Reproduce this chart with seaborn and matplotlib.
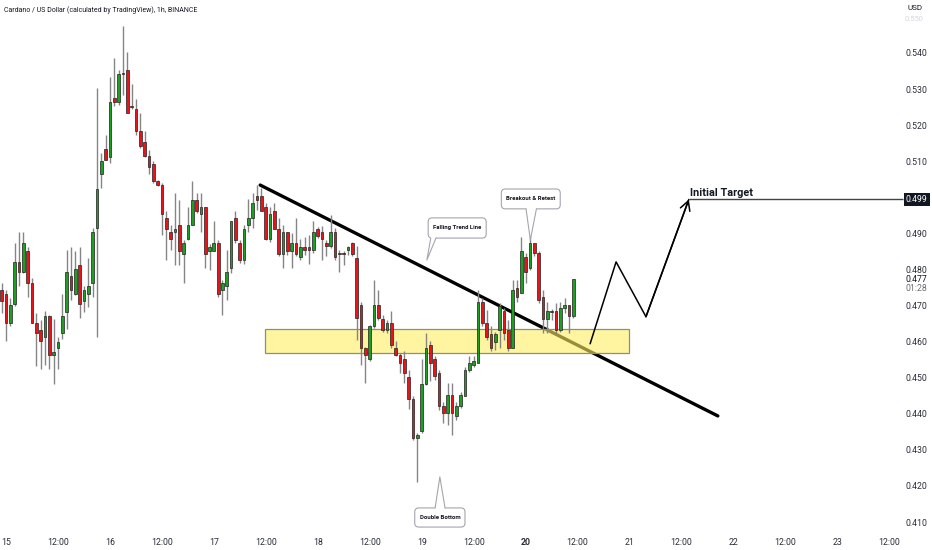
import numpy as np
import pandas as pd
import matplotlib
matplotlib.use("Agg")
import matplotlib.pyplot as plt
import seaborn as sns
from matplotlib.patches import Rectangle, FancyBboxPatch, Polygon
from matplotlib.lines import Line2D
from matplotlib.transforms import IdentityTransform

# hourly ADA/USD candles, first one at 14th 23:00
opens = [0.4742, 0.4732, 0.4653, 0.4704, 0.4822, 0.4792, 0.4852, 0.4762, 0.4651, 0.4631,
         0.4612, 0.4671, 0.4563, 0.4582, 0.4623, 0.4683, 0.4782, 0.4732, 0.4813, 0.4713,
         0.4732, 0.4762, 0.4914, 0.5064, 0.5133, 0.5113, 0.5274, 0.5263, 0.5343, 0.5353,
         0.5253, 0.5244, 0.5184, 0.5152, 0.5114, 0.5093, 0.5044, 0.5034, 0.4942, 0.4903,
         0.4903, 0.4924, 0.4843, 0.4884, 0.4924, 0.4993, 0.4953, 0.4972, 0.4852, 0.4852,
         0.4873, 0.4742, 0.4753, 0.4804, 0.4942, 0.4873, 0.4825, 0.4924, 0.4944, 0.5004,
         0.5004, 0.4972, 0.4884, 0.4962, 0.4913, 0.4843, 0.4903, 0.4852, 0.4873, 0.4834,
         0.4862, 0.4862, 0.4854, 0.4913, 0.4903, 0.4873, 0.4864, 0.4903, 0.4843, 0.4845,
         0.4854, 0.4873, 0.4831, 0.4702, 0.4582, 0.4552, 0.4642, 0.4702, 0.4662, 0.4633,
         0.4651, 0.4582, 0.4564, 0.4552, 0.4502, 0.4441, 0.4333, 0.4351, 0.4483, 0.4591,
         0.4552, 0.4513, 0.4422, 0.4402, 0.4453, 0.4393, 0.4421, 0.4450, 0.4522, 0.4536,
         0.4541, 0.4711, 0.4651, 0.4622, 0.4600, 0.4633, 0.4684, 0.4633, 0.4582, 0.4750,
         0.4734, 0.4834, 0.4804, 0.4873, 0.4845, 0.4723, 0.4662, 0.4684, 0.4684, 0.4633,
         0.4693, 0.4702, 0.4671]
highs = [0.4762, 0.4743, 0.4722, 0.4873, 0.4903, 0.4903, 0.4863, 0.4776, 0.4679, 0.4660,
         0.4685, 0.4674, 0.4662, 0.4614, 0.4731, 0.4854, 0.4861, 0.4850, 0.4861, 0.4753,
         0.4833, 0.4914, 0.5302, 0.5122, 0.5173, 0.5334, 0.5385, 0.5354, 0.5474, 0.5403,
         0.5314, 0.5272, 0.5234, 0.5184, 0.5131, 0.5100, 0.5048, 0.5039, 0.4961, 0.4924,
         0.5013, 0.4993, 0.4882, 0.4974, 0.5044, 0.5011, 0.5011, 0.4974, 0.4871, 0.4933,
         0.4882, 0.4771, 0.4854, 0.4933, 0.4962, 0.4882, 0.4924, 0.4995, 0.5013, 0.5034,
         0.5025, 0.4983, 0.4974, 0.4983, 0.4942, 0.4924, 0.4903, 0.4902, 0.4942, 0.4884,
         0.4891, 0.4896, 0.4933, 0.4919, 0.4921, 0.4882, 0.4951, 0.4915, 0.4854, 0.4850,
         0.4864, 0.4875, 0.4864, 0.4711, 0.4586, 0.4647, 0.4771, 0.4744, 0.4674, 0.4660,
         0.4684, 0.4601, 0.4568, 0.4573, 0.4522, 0.4448, 0.4347, 0.4552, 0.4624, 0.4601,
         0.4559, 0.4522, 0.4434, 0.4485, 0.4485, 0.4434, 0.4460, 0.4531, 0.4559, 0.4560,
         0.4742, 0.4721, 0.4688, 0.4642, 0.4628, 0.4707, 0.4693, 0.4660, 0.4771, 0.4771,
         0.4891, 0.4845, 0.4893, 0.4873, 0.4850, 0.4744, 0.4711, 0.4690, 0.4708, 0.4711,
         0.4721, 0.4702, 0.4773]
lows = [0.4679, 0.4603, 0.4644, 0.4699, 0.4753, 0.4790, 0.4725, 0.4651, 0.4533, 0.4524,
        0.4536, 0.4524, 0.4483, 0.4524, 0.4608, 0.4634, 0.4716, 0.4729, 0.4665, 0.4683,
        0.4697, 0.4725, 0.4614, 0.5025, 0.5103, 0.5094, 0.5253, 0.5256, 0.5283, 0.5234,
        0.5244, 0.5173, 0.5136, 0.5113, 0.5065, 0.5039, 0.5030, 0.4896, 0.4825, 0.4854,
        0.4813, 0.4813, 0.4762, 0.4882, 0.4924, 0.4956, 0.4905, 0.4804, 0.4799, 0.4852,
        0.4725, 0.4674, 0.4716, 0.4791, 0.4873, 0.4817, 0.4816, 0.4905, 0.4914, 0.4965,
        0.4961, 0.4882, 0.4877, 0.4912, 0.4836, 0.4804, 0.4840, 0.4804, 0.4836, 0.4825,
        0.4841, 0.4816, 0.4845, 0.4887, 0.4827, 0.4836, 0.4859, 0.4825, 0.4794, 0.4813,
        0.4841, 0.4836, 0.4605, 0.4536, 0.4485, 0.4545, 0.4637, 0.4660, 0.4628, 0.4624,
        0.4582, 0.4559, 0.4513, 0.4485, 0.4413, 0.4328, 0.4210, 0.4347, 0.4481, 0.4490,
        0.4494, 0.4411, 0.4374, 0.4370, 0.4342, 0.4384, 0.4417, 0.4448, 0.4517, 0.4530,
        0.4541, 0.4642, 0.4605, 0.4573, 0.4577, 0.4582, 0.4605, 0.4573, 0.4582, 0.4711,
        0.4734, 0.4762, 0.4799, 0.4836, 0.4707, 0.4624, 0.4624, 0.4660, 0.4624, 0.4628,
        0.4679, 0.4624, 0.4665]
closes = [0.4713, 0.4653, 0.4702, 0.4822, 0.4792, 0.4873, 0.4762, 0.4653, 0.4623, 0.4602,
          0.4671, 0.4563, 0.4572, 0.4600, 0.4671, 0.4792, 0.4743, 0.4802, 0.4704, 0.4742,
          0.4753, 0.4903, 0.5022, 0.5101, 0.5103, 0.5263, 0.5263, 0.5343, 0.5341, 0.5234,
          0.5251, 0.5185, 0.5142, 0.5114, 0.5083, 0.5044, 0.5034, 0.4953, 0.4913, 0.4884,
          0.4913, 0.4852, 0.4873, 0.4924, 0.4993, 0.4963, 0.4972, 0.4843, 0.4862, 0.4873,
          0.4733, 0.4762, 0.4792, 0.4933, 0.4882, 0.4825, 0.4913, 0.4942, 0.4983, 0.4993,
          0.4963, 0.4884, 0.4953, 0.4913, 0.4843, 0.4903, 0.4852, 0.4873, 0.4843, 0.4862,
          0.4854, 0.4854, 0.4903, 0.4893, 0.4884, 0.4864, 0.4903, 0.4834, 0.4845, 0.4843,
          0.4862, 0.4843, 0.4665, 0.4582, 0.4564, 0.4642, 0.4702, 0.4665, 0.4633, 0.4651,
          0.4591, 0.4564, 0.4542, 0.4513, 0.4441, 0.4333, 0.4342, 0.4483, 0.4582, 0.4542,
          0.4504, 0.4421, 0.4402, 0.4453, 0.4402, 0.4421, 0.4453, 0.4522, 0.4540, 0.4545,
          0.4711, 0.4651, 0.4613, 0.4582, 0.4622, 0.4699, 0.4624, 0.4582, 0.4742, 0.4723,
          0.4852, 0.4794, 0.4873, 0.4845, 0.4714, 0.4662, 0.4684, 0.4682, 0.4633, 0.4693,
          0.4702, 0.4670, 0.4773]

price_ticks = [0.410, 0.420, 0.430, 0.440, 0.450, 0.460, 0.470, 0.480, 0.490,
               0.500, 0.510, 0.520, 0.530, 0.540]
# drawings (hours since the 15th 00:00, price)
trend_hours = [58.7, 164.4]
trend_prices = [0.5034, 0.4394]
zone_hours = [59.8, 143.9]
zone_prices = [0.4569, 0.4635]
proj_hours = [134.9, 140.9, 147.8, 157.7]
proj_prices = [0.4594, 0.4821, 0.4669, 0.4994]
target_price = 0.4994
target_label = "0.499"
last_label = "0.477"
countdown = "01:28"

TITLE = "Cardano / US Dollar (calculated by TradingView), 1h, BINANCE"
DARK = "#131722"

sns.set_theme(style="white")
plt.rcParams["font.family"] = ["Roboto", "DejaVu Sans"]

day0 = pd.Timestamp("2022-09-15")
times = pd.date_range("2022-09-14 23:00", periods=len(opens), freq="h")
df = pd.DataFrame({"time": times, "open": opens, "high": highs, "low": lows, "close": closes})
df["hour"] = (df["time"] - day0) / pd.Timedelta(hours=1)
df["up"] = df["close"] >= df["open"]

fig = plt.figure(figsize=(9.32, 5.5), dpi=100)
ax = fig.add_axes([0, 22 / 550, 900 / 932, 528 / 550])
ax.set_xlim(-1.386, 206.47)
ax.set_ylim(0.40834, 0.55469)

# trend line under the zone, candles on top
sns.lineplot(x=trend_hours, y=trend_prices, color="black", lw=2.4, ax=ax, zorder=2)
ax.add_patch(Rectangle((zone_hours[0], zone_prices[0]), zone_hours[1] - zone_hours[0],
                       zone_prices[1] - zone_prices[0], fc=(1.0, 0.93, 0.38, 0.6),
                       ec="#8f8f76", lw=0.9, zorder=2.5))

colors = np.where(df["up"], "#1f9e24", "#e8141a")
ax.vlines(df["hour"], df["low"], df["high"], color="#858585", lw=1.0, zorder=3)
body = (df["close"] - df["open"]).abs().clip(lower=0.00028)
ax.bar(df["hour"], body, bottom=df[["open", "close"]].min(axis=1), width=0.62,
       color=colors, edgecolor="#222222", linewidth=0.5, zorder=4)

# projected path to target
sns.lineplot(x=proj_hours, y=proj_prices, sort=False, color="black", lw=1.1, ax=ax, zorder=5)
ax.annotate("", xy=(proj_hours[-1], proj_prices[-1]), xytext=(proj_hours[-2], proj_prices[-2]),
            arrowprops=dict(arrowstyle="->,head_length=0.55,head_width=0.3", lw=1.1,
                            color="black", shrinkA=0, shrinkB=0), zorder=5)
ax.hlines(target_price, proj_hours[-1], 207.2, color="#444444", lw=1.0, zorder=5, clip_on=False)
ax.annotate("Initial Target", xy=(proj_hours[-1] + 0.3, target_price), xytext=(0, 1),
            textcoords="offset pixels", ha="left", va="bottom", fontsize=7.8,
            fontweight="bold", color=DARK)


def to_px(h, p):
    return ax.transData.transform((h, p))


def callout(text, x0, x1, y0, y1, tip, base):
    (bx0, by0), (bx1, by1) = to_px(x0, y0), to_px(x1, y1)
    ax.add_patch(FancyBboxPatch((bx0, by0), bx1 - bx0, by1 - by0,
                                boxstyle="round,pad=0,rounding_size=4", fc="white",
                                ec="#a3a6ae", lw=0.8, transform=IdentityTransform(),
                                zorder=6, clip_on=False))
    tx, ty = to_px(*tip)
    edge = by0 if ty < by0 else by1
    inward = 1.5 if ty < by0 else -1.5
    lx, rx = to_px(base[0], 0)[0], to_px(base[1], 0)[0]
    ax.add_patch(Polygon([(lx, edge + inward), (tx, ty), (rx, edge + inward)], fc="white",
                         ec="none", transform=IdentityTransform(), zorder=7, clip_on=False))
    ax.add_line(Line2D([lx, tx, rx], [edge, ty, edge], color="#a3a6ae", lw=0.8,
                       transform=IdentityTransform(), zorder=7.5, clip_on=False))
    ax.text((x0 + x1) / 2, (y0 + y1) / 2, text, ha="center", va="center", fontsize=4.3,
            fontweight="bold", color=DARK, zorder=8, clip_on=False)


callout("Falling Trend Line", 97.5, 110.9, 0.4887, 0.4943, (97.2, 0.4826), (98.1, 99.3))
callout("Breakout & Retest", 114.4, 128.0, 0.4968, 0.5023, (121.1, 0.4882), (120.1, 122.5))
callout("Double Bottom", 94.4, 106.0, 0.4086, 0.4139, (100.2, 0.4225), (99.1, 101.4))

# axes
sns.despine(ax=ax, left=True, bottom=True, top=True, right=True)
ax.yaxis.tick_right()
ax.set_yticks(price_ticks)
ax.set_yticklabels([f"{t:.3f}" for t in price_ticks])
tick_times = pd.date_range(day0, periods=18, freq="12h")
ax.set_xticks((tick_times - day0) / pd.Timedelta(hours=1))
ax.set_xticklabels([str(t.day) if t.hour == 0 else t.strftime("%H:%M") for t in tick_times])
for lab, t in zip(ax.get_xticklabels(), tick_times):
    if t.day == 20 and t.hour == 0:
        lab.set_fontweight("bold")
ax.tick_params(axis="y", length=0, pad=3.6, labelsize=6.3, labelcolor="#2a2e39")
ax.tick_params(axis="x", length=0, pad=7, labelsize=6.3, labelcolor="#2a2e39")
ax.set_xlabel("")
ax.set_ylabel("")
ax.grid(False)

ax.annotate(target_label, xy=(1, target_price), xycoords=("axes fraction", "data"),
            xytext=(6, 0), textcoords="offset pixels", ha="left", va="center",
            fontsize=6.3, color="white",
            bbox=dict(boxstyle="square,pad=0.2", fc=DARK, ec="none"), annotation_clip=False)
ax.annotate(last_label, xy=(1, df["close"].iloc[-1]), xycoords=("axes fraction", "data"),
            xytext=(5, 0), textcoords="offset pixels", ha="left", va="center",
            fontsize=6.3, color=DARK, annotation_clip=False)
ax.annotate(countdown, xy=(1, df["close"].iloc[-1]), xycoords=("axes fraction", "data"),
            xytext=(5, -9), textcoords="offset pixels", ha="left", va="center",
            fontsize=6.3, color="#6a6d78", annotation_clip=False)
ax.annotate("0.550", xy=(1, 0.5493), xycoords=("axes fraction", "data"),
            xytext=(5, 0), textcoords="offset pixels", ha="left", va="center",
            fontsize=5.5, color="#d4d6dc", annotation_clip=False)

fig.text(4 / 932, 1 - 10 / 550, TITLE, ha="left", va="center", fontsize=5.0, color=DARK)
fig.text(908 / 932, 1 - 8 / 550, "USD", ha="left", va="center", fontsize=5.8, color=DARK)

fig.savefig("out.png", dpi=100, facecolor="white")
